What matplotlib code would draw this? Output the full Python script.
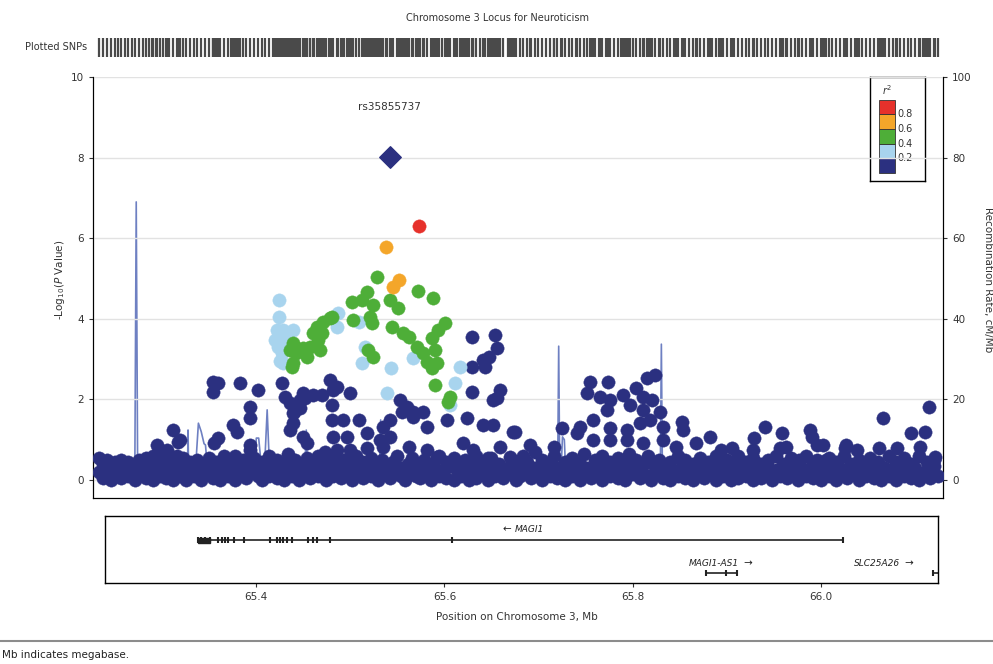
import numpy as np
import matplotlib
matplotlib.use("Agg")
import matplotlib.pyplot as plt
from matplotlib.patches import Rectangle

plt.rcParams['font.family'] = ['DejaVu Sans']

# colores por r2
navy = '#2B3080'
lblue = '#A8D4EE'
green = '#4EAE38'
orange = '#F4A62A'
red = '#E6312B'
recomb_col = '#6E80C2'

# SNP principal
top_snp = 'rs35855737'
top_pos = 65.542
top_logp = 8.01

# r2 >= 0.8
red_snps = [(65.573, 6.30)]

# 0.6 - 0.8
orange_snps = [(65.538, 5.78), (65.552, 4.96), (65.546, 4.79)]

# 0.4 - 0.6
green_snps = [
    (65.529, 5.04), (65.572, 4.69), (65.588, 4.52), (65.518, 4.67), (65.513, 4.47),
    (65.502, 4.42), (65.524, 4.34), (65.542, 4.47), (65.551, 4.27), (65.521, 4.04),
    (65.503, 3.97), (65.523, 3.90), (65.545, 3.80), (65.601, 3.90), (65.593, 3.72),
    (65.556, 3.65), (65.563, 3.55), (65.587, 3.52), (65.571, 3.30), (65.577, 3.15),
    (65.590, 3.23), (65.582, 2.93), (65.592, 2.90), (65.587, 2.78), (65.590, 2.36),
    (65.604, 1.94), (65.606, 2.06), (65.479, 4.02), (65.471, 3.92), (65.465, 3.80),
    (65.470, 3.65), (65.461, 3.65), (65.466, 3.47), (65.457, 3.30), (65.450, 3.28),
    (65.439, 3.40), (65.436, 3.23), (65.443, 3.15), (65.468, 3.23), (65.454, 3.05),
    (65.439, 2.90), (65.438, 2.80), (65.481, 4.04), (65.519, 3.23), (65.524, 3.05),
]

# 0.2 - 0.4
lblue_snps = [
    (65.425, 4.47), (65.425, 4.04), (65.422, 3.72), (65.429, 3.72), (65.439, 3.72),
    (65.420, 3.47), (65.428, 3.15), (65.429, 2.90), (65.487, 4.14), (65.486, 3.80),
    (65.510, 3.92), (65.516, 3.30), (65.513, 2.90), (65.544, 2.78), (65.539, 2.16),
    (65.567, 3.03), (65.617, 2.80), (65.611, 2.41), (65.606, 1.86), (65.424, 3.30),
    (65.432, 3.50), (65.426, 2.95),
]

# r2 < 0.2
navy_snps = [
    # valores intermedios
    (65.312, 1.24), (65.317, 0.94), (65.295, 0.87), (65.290, 0.55), (65.306, 0.74),
    (65.319, 0.99), (65.354, 2.43), (65.360, 2.40), (65.355, 2.18), (65.383, 2.40),
    (65.402, 2.23), (65.428, 2.40), (65.431, 2.06), (65.394, 1.81), (65.394, 1.54),
    (65.376, 1.36), (65.380, 1.19), (65.360, 1.04), (65.356, 0.92), (65.394, 0.87),
    (65.394, 0.74), (65.439, 1.66), (65.447, 1.98), (65.436, 1.24), (65.450, 1.07),
    (65.436, 1.91), (65.450, 2.16), (65.439, 1.41), (65.386, 0.50),
    (65.479, 2.48), (65.486, 2.31), (65.500, 2.16), (65.452, 2.03), (65.461, 2.11),
    (65.470, 2.11), (65.445, 1.86), (65.441, 1.69), (65.481, 1.86), (65.482, 2.23),
    (65.447, 1.79), (65.553, 1.99), (65.560, 1.81), (65.567, 1.69), (65.577, 1.69),
    (65.555, 1.69), (65.567, 1.56), (65.582, 1.32), (65.603, 1.49), (65.624, 1.54),
    (65.641, 1.36), (65.652, 1.36), (65.673, 1.19), (65.629, 3.55), (65.654, 3.60),
    (65.656, 3.28), (65.648, 3.05), (65.643, 2.80), (65.629, 2.80), (65.629, 2.18),
    (65.659, 2.23), (65.656, 2.03), (65.641, 2.98), (65.652, 1.98),
    (65.481, 1.49), (65.492, 1.49), (65.510, 1.49), (65.482, 1.07), (65.497, 1.07),
    (65.518, 1.17), (65.535, 1.32), (65.542, 1.49), (65.532, 0.99), (65.542, 1.07),
    (65.454, 0.92), (65.473, 0.69), (65.486, 0.74), (65.500, 0.74), (65.518, 0.79),
    (65.535, 0.82), (65.563, 0.82), (65.582, 0.74), (65.592, 0.57), (65.620, 0.92),
    (65.631, 0.74), (65.646, 0.55), (65.659, 0.82), (65.670, 0.57),
    (65.755, 2.43), (65.774, 2.43), (65.752, 2.16), (65.765, 2.06), (65.776, 1.98),
    (65.773, 1.74), (65.790, 2.11), (65.804, 2.28), (65.815, 2.53), (65.824, 2.60),
    (65.811, 2.06), (65.821, 1.98), (65.797, 1.86), (65.811, 1.74), (65.829, 1.69),
    (65.818, 1.49), (65.808, 1.41), (65.832, 1.32), (65.852, 1.44), (65.853, 1.24),
    (65.882, 1.07), (65.758, 1.49), (65.744, 1.32), (65.741, 1.17), (65.725, 1.29),
    (65.717, 0.82), (65.691, 0.87), (65.675, 1.19), (65.776, 1.29), (65.794, 1.24),
    (65.758, 0.99), (65.776, 0.99), (65.794, 0.99), (65.811, 0.92), (65.832, 0.99),
    (65.846, 0.82), (65.867, 0.92), (65.894, 0.74),
    (65.940, 1.32), (65.929, 1.04), (65.959, 1.17), (65.988, 1.24), (65.990, 1.07),
    (66.002, 0.87), (66.066, 1.54), (66.115, 1.81), (66.096, 1.17), (66.110, 1.19),
    (66.027, 0.87), (66.038, 0.74), (66.081, 0.79), (66.105, 0.82), (66.121, 0.57),
    (65.906, 0.79), (65.963, 0.82), (65.977, 0.50), (66.005, 0.50), (65.928, 0.74),
    (65.956, 0.79), (65.996, 0.87), (66.025, 0.80), (66.062, 0.79),
    # banda de abajo
    (65.234, 0.55), (65.234, 0.20), (65.238, 0.05), (65.238, 0.40), (65.242, 0.50),
    (65.242, 0.15), (65.246, 0.30), (65.246, 0.00), (65.250, 0.45), (65.250, 0.10),
    (65.254, 0.25), (65.257, 0.05), (65.257, 0.50), (65.261, 0.35), (65.264, 0.10),
    (65.264, 0.45), (65.268, 0.20), (65.272, 0.00), (65.272, 0.35), (65.276, 0.50),
    (65.276, 0.15), (65.280, 0.30), (65.283, 0.05), (65.283, 0.55), (65.287, 0.40),
    (65.287, 0.20), (65.291, 0.60), (65.291, 0.00), (65.294, 0.25), (65.298, 0.45),
    (65.298, 0.10), (65.301, 0.30), (65.301, 0.65), (65.305, 0.05), (65.305, 0.50),
    (65.308, 0.20), (65.312, 0.40), (65.312, 0.00), (65.316, 0.60), (65.316, 0.25),
    (65.319, 0.10), (65.323, 0.35), (65.323, 0.55), (65.326, 0.00), (65.330, 0.20),
    (65.330, 0.45), (65.334, 0.10), (65.334, 0.30), (65.338, 0.50), (65.342, 0.00),
    (65.342, 0.25), (65.346, 0.35), (65.350, 0.15), (65.350, 0.55), (65.354, 0.05),
    (65.354, 0.30), (65.358, 0.45), (65.362, 0.20), (65.362, 0.00), (65.366, 0.60),
    (65.366, 0.35), (65.370, 0.10), (65.374, 0.45), (65.374, 0.25), (65.378, 0.00),
    (65.378, 0.60), (65.382, 0.30), (65.386, 0.15), (65.390, 0.05), (65.394, 0.40),
    (65.394, 0.20), (65.398, 0.55), (65.402, 0.10), (65.402, 0.30), (65.406, 0.00),
    (65.406, 0.45), (65.410, 0.25), (65.414, 0.60), (65.414, 0.10), (65.418, 0.35),
    (65.422, 0.05), (65.422, 0.50), (65.426, 0.20), (65.430, 0.40), (65.430, 0.00),
    (65.434, 0.30), (65.434, 0.65), (65.438, 0.10), (65.442, 0.50), (65.442, 0.25),
    (65.446, 0.00), (65.450, 0.35), (65.450, 0.15), (65.454, 0.55), (65.458, 0.20),
    (65.458, 0.05), (65.462, 0.40), (65.466, 0.10), (65.466, 0.60), (65.470, 0.30),
    (65.474, 0.00), (65.474, 0.45), (65.478, 0.20), (65.482, 0.55), (65.482, 0.10),
    (65.486, 0.35), (65.490, 0.05), (65.490, 0.25), (65.494, 0.50), (65.498, 0.15),
    (65.498, 0.40), (65.502, 0.00), (65.506, 0.30), (65.506, 0.60), (65.510, 0.20),
    (65.514, 0.45), (65.514, 0.05), (65.518, 0.30), (65.522, 0.10), (65.522, 0.55),
    (65.526, 0.40), (65.530, 0.00), (65.530, 0.20), (65.534, 0.50), (65.538, 0.15),
    (65.538, 0.35), (65.542, 0.05), (65.546, 0.45), (65.546, 0.25), (65.550, 0.60),
    (65.554, 0.10), (65.554, 0.30), (65.558, 0.00), (65.562, 0.40), (65.562, 0.20),
    (65.566, 0.55), (65.570, 0.10), (65.570, 0.35), (65.574, 0.05), (65.578, 0.25),
    (65.578, 0.50), (65.582, 0.15), (65.586, 0.40), (65.586, 0.00), (65.590, 0.30),
    (65.594, 0.60), (65.594, 0.10), (65.598, 0.20), (65.602, 0.45), (65.602, 0.05),
    (65.606, 0.35), (65.610, 0.00), (65.610, 0.55), (65.614, 0.25), (65.618, 0.10),
    (65.618, 0.40), (65.622, 0.50), (65.626, 0.20), (65.626, 0.00), (65.630, 0.35),
    (65.634, 0.05), (65.634, 0.60), (65.638, 0.30), (65.642, 0.15), (65.642, 0.45),
    (65.646, 0.00), (65.650, 0.25), (65.650, 0.55), (65.654, 0.10), (65.658, 0.40),
    (65.658, 0.20), (65.662, 0.05), (65.668, 0.30), (65.672, 0.15), (65.672, 0.50),
    (65.676, 0.00), (65.680, 0.35), (65.680, 0.10), (65.684, 0.60), (65.688, 0.20),
    (65.688, 0.45), (65.692, 0.05), (65.696, 0.30), (65.696, 0.70), (65.700, 0.15),
    (65.704, 0.50), (65.704, 0.00), (65.708, 0.25), (65.712, 0.40), (65.712, 0.10),
    (65.716, 0.60), (65.720, 0.05), (65.720, 0.30), (65.724, 0.20), (65.728, 0.45),
    (65.728, 0.00), (65.732, 0.35), (65.736, 0.10), (65.736, 0.55), (65.740, 0.25),
    (65.744, 0.00), (65.744, 0.40), (65.748, 0.65), (65.752, 0.15), (65.752, 0.30),
    (65.756, 0.05), (65.760, 0.50), (65.760, 0.20), (65.764, 0.35), (65.768, 0.00),
    (65.768, 0.60), (65.772, 0.25), (65.776, 0.10), (65.776, 0.45), (65.780, 0.30),
    (65.784, 0.55), (65.784, 0.05), (65.788, 0.20), (65.792, 0.40), (65.792, 0.00),
    (65.796, 0.65), (65.800, 0.15), (65.800, 0.30), (65.804, 0.50), (65.808, 0.05),
    (65.808, 0.25), (65.812, 0.40), (65.816, 0.10), (65.816, 0.60), (65.820, 0.00),
    (65.824, 0.35), (65.824, 0.20), (65.828, 0.50), (65.832, 0.15), (65.832, 0.05),
    (65.836, 0.30), (65.840, 0.45), (65.840, 0.00), (65.844, 0.20), (65.848, 0.60),
    (65.848, 0.10), (65.852, 0.35), (65.856, 0.05), (65.856, 0.50), (65.860, 0.25),
    (65.864, 0.40), (65.864, 0.00), (65.868, 0.15), (65.872, 0.30), (65.872, 0.55),
    (65.876, 0.05), (65.880, 0.20), (65.880, 0.45), (65.884, 0.35), (65.888, 0.00),
    (65.888, 0.60), (65.892, 0.25), (65.896, 0.10), (65.896, 0.40), (65.900, 0.50),
    (65.904, 0.20), (65.904, 0.00), (65.908, 0.35), (65.912, 0.05), (65.912, 0.60),
    (65.916, 0.25), (65.920, 0.45), (65.920, 0.10), (65.924, 0.30), (65.928, 0.00),
    (65.928, 0.55), (65.932, 0.20), (65.936, 0.40), (65.936, 0.05), (65.940, 0.15),
    (65.944, 0.50), (65.944, 0.30), (65.948, 0.00), (65.952, 0.25), (65.952, 0.60),
    (65.956, 0.10), (65.960, 0.40), (65.960, 0.20), (65.964, 0.05), (65.968, 0.30),
    (65.968, 0.55), (65.972, 0.15), (65.976, 0.45), (65.976, 0.00), (65.980, 0.30),
    (65.984, 0.10), (65.984, 0.60), (65.988, 0.25), (65.992, 0.05), (65.992, 0.40),
    (65.996, 0.50), (66.000, 0.20), (66.000, 0.00), (66.004, 0.35), (66.008, 0.10),
    (66.008, 0.55), (66.012, 0.25), (66.016, 0.00), (66.016, 0.45), (66.020, 0.30),
    (66.024, 0.15), (66.024, 0.60), (66.028, 0.05), (66.032, 0.40), (66.032, 0.20),
    (66.036, 0.30), (66.040, 0.00), (66.040, 0.50), (66.044, 0.20), (66.048, 0.35),
    (66.048, 0.10), (66.052, 0.55), (66.056, 0.05), (66.056, 0.30), (66.060, 0.45),
    (66.064, 0.15), (66.064, 0.00), (66.068, 0.30), (66.072, 0.60), (66.072, 0.10),
    (66.076, 0.25), (66.080, 0.00), (66.080, 0.45), (66.084, 0.35), (66.088, 0.10),
    (66.088, 0.55), (66.092, 0.20), (66.096, 0.40), (66.096, 0.05), (66.100, 0.30),
    (66.104, 0.00), (66.104, 0.60), (66.108, 0.15), (66.112, 0.45), (66.112, 0.25),
    (66.116, 0.05), (66.120, 0.35), (66.120, 0.50), (66.124, 0.10),
]

# tasa de recombinacion (cM/Mb)
recomb_pos = [65.227, 65.240, 65.255, 65.268, 65.2715, 65.273, 65.2745, 65.278, 65.290,
              65.300, 65.312, 65.324, 65.3275, 65.328, 65.3285, 65.332, 65.336, 65.339,
              65.342, 65.345, 65.3465, 65.349, 65.352, 65.365, 65.385, 65.398, 65.4005,
              65.403, 65.406, 65.409, 65.412, 65.4145, 65.417, 65.430, 65.450, 65.4525,
              65.4535, 65.455, 65.470, 65.500, 65.530, 65.5315, 65.5325, 65.534, 65.560,
              65.580, 65.600, 65.640, 65.680, 65.700, 65.7205, 65.7215, 65.7225, 65.724,
              65.7255, 65.7275, 65.729, 65.735, 65.760, 65.800, 65.8295, 65.8305, 65.8315,
              65.833, 65.850, 65.900, 65.950, 66.000, 66.050, 66.100, 66.130]
recomb_rate = [1.0, 1.5, 1.0, 1.2, 2.0, 69.0, 2.0, 1.0, 1.5,
               2.0, 1.0, 1.5, 4.0, 12.4, 4.0, 1.5, 3.0, 14.1,
               12.0, 9.0, 8.7, 2.0, 0.8, 0.6, 0.7, 1.0, 10.4,
               10.4, 3.0, 2.0, 17.4, 3.0, 1.0, 0.8, 0.8, 6.0,
               12.4, 1.0, 0.8, 0.5, 0.8, 5.0, 14.9, 1.0, 0.8,
               0.6, 0.5, 0.6, 0.5, 0.8, 5.0, 33.2, 5.0, 2.0,
               10.7, 10.0, 1.5, 1.0, 0.8, 0.8, 5.0, 33.7, 5.0,
               1.0, 0.8, 0.6, 0.5, 0.6, 0.5, 0.6, 0.5]

# genes
magi1_start, magi1_end = 65.338, 66.023
magi1_exons = [65.338, 65.342, 65.346, 65.351, 65.360, 65.364, 65.367, 65.370, 65.377,
               65.387, 65.415, 65.422, 65.425, 65.429, 65.433, 65.438, 65.455, 65.461,
               65.465, 65.479, 65.608, 66.023]
as1_start, as1_end = 65.878, 65.911
as1_exons = [65.878, 65.899, 65.911]
slc_start, slc_end = 66.119, 66.160

xticks = [65.4, 65.6, 65.8, 66.0]
legend_cuts = ['0.2', '0.4', '0.6', '0.8']

xmin, xmax = 65.2271, 66.1295
txt = '#333333'
fs = 7.5

fig = plt.figure(figsize=(9.93, 6.64), dpi=100)

# ---- panel principal ----
ax = fig.add_axes([93 / 993, 1 - 498 / 664, 850 / 993, 421 / 664])
ax.set_xlim(xmin, xmax)
ax.set_ylim(-0.447, 10)
ax.spines['top'].set_visible(False)
ax.set_yticks([0, 2, 4, 6, 8, 10])
ax.tick_params(axis='y', labelsize=fs, colors=txt, length=3, width=0.8)
ax.tick_params(axis='x', bottom=False, labelbottom=False)
ax.grid(axis='y', color='#E2E2E2', linewidth=1.0)
ax.set_axisbelow(True)

ax2 = ax.twinx()
ax2.set_ylim(-4.47, 100)
ax2.set_yticks([0, 20, 40, 60, 80, 100])
ax2.tick_params(axis='y', labelsize=fs, colors=txt, length=3, width=0.8)
ax2.spines['top'].set_visible(False)
ax2.plot(recomb_pos, recomb_rate, color=recomb_col, lw=1.2, zorder=1)
ax2.set_zorder(0)
ax.set_zorder(1)
ax.patch.set_visible(False)

def scat(pts, col):
    a = np.array(pts)
    ax.scatter(a[:, 0], a[:, 1], s=92, color=col, edgecolors=col, linewidths=0.3, zorder=3)

scat(navy_snps, navy)
scat(lblue_snps, lblue)
scat(green_snps, green)
scat(orange_snps, orange)
scat(red_snps, red)
ax.scatter([top_pos], [top_logp], marker='D', s=120, color=navy, zorder=4)
ax.text(top_pos, 9.26, top_snp, ha='center', va='center', fontsize=fs, color=txt)

fig.text(60 / 993, 1 - 280 / 664, r'-Log$_{10}$($\it{P}$ Value)', rotation=90,
         ha='center', va='center', fontsize=fs, color=txt)
fig.text(0.995, 1 - 280 / 664, 'Recombination Rate, cM/Mb', rotation=270,
         ha='center', va='center', fontsize=fs, color=txt)

# ---- leyenda r2 ----
lg = fig.add_axes([870 / 993, 1 - 181 / 664, 55 / 993, 104 / 664])
lg.set_xlim(0, 55)
lg.set_ylim(0, 104)
lg.set_xticks([])
lg.set_yticks([])
for sp in lg.spines.values():
    sp.set_linewidth(1.0)
legend_cols = [navy, lblue, green, orange, red]
for i, c in enumerate(legend_cols):
    lg.add_patch(Rectangle((9, 8 + i * 14.7), 16, 14.7, facecolor=c, edgecolor='#333333', lw=0.6))
for i, lab in enumerate(legend_cuts):
    lg.text(27, 8 + (i + 1) * 14.7, lab, ha='left', va='center', fontsize=7, color=txt)
lg.text(17, 91, r'$\it{r}^2$', ha='center', va='center', fontsize=7, color=txt)

# ---- pista de SNPs ----
tr = fig.add_axes([93 / 993, 1 - 57 / 664, 850 / 993, 19 / 664])
tr.set_xlim(xmin, xmax)
tr.set_ylim(0, 1)
tr.axis('off')
all_pos = sorted(set([p[0] for p in navy_snps + lblue_snps + green_snps + orange_snps + red_snps] + [top_pos]))
tr.vlines(all_pos, 0, 1, color='#4A4A4A', lw=1.6)
fig.text(87 / 993, 1 - 47 / 664, 'Plotted SNPs', ha='right', va='center', fontsize=7, color=txt)

fig.text(497 / 993, 1 - 18 / 664, 'Chromosome 3 Locus for Neuroticism', ha='center', va='center',
         fontsize=7, color=txt)

# ---- panel de genes ----
gx0 = 65.4 - (256 - 105) / 942
gx1 = 65.4 + (938 - 256) / 942
ga = fig.add_axes([105 / 993, 1 - 583 / 664, 833 / 993, 67 / 664])
ga.set_xlim(gx0, gx1)
ga.set_ylim(67, 0)
ga.set_yticks([])
ga.set_xticks(xticks)
ga.set_xticklabels(['%.1f' % t for t in xticks])
ga.tick_params(axis='x', labelsize=fs, colors=txt, length=3, width=0.8)
for sp in ga.spines.values():
    sp.set_linewidth(1.0)

gc = '#222222'
ga.plot([magi1_start, magi1_end], [24, 24], color=gc, lw=1.2, solid_capstyle='butt')
ga.vlines(magi1_exons, 21, 27, color=gc, lw=1.5)
ga.add_patch(Rectangle((magi1_exons[0], 21.5), magi1_exons[3] - magi1_exons[0], 5, color=gc))
ga.text(65.675, 13, u'\u2190 ', ha='right', va='center', fontsize=7.5, color=gc)
ga.text(65.675, 13, 'MAGI1', ha='left', va='center', fontsize=6.5, style='italic', color=gc)

ga.plot([as1_start, as1_end], [57, 57], color=gc, lw=1.2)
ga.vlines(as1_exons, 54, 60, color=gc, lw=1.5)
ga.text(65.913, 47, 'MAGI1-AS1', ha='right', va='center', fontsize=6.5, style='italic', color=gc)
ga.text(65.917, 47, u'\u2192', ha='left', va='center', fontsize=7.5, color=gc)

ga.plot([slc_start, slc_end], [57, 57], color=gc, lw=1.2, clip_on=True)
ga.vlines([slc_start], 54, 60, color=gc, lw=1.5)
ga.text(66.084, 47, 'SLC25A26', ha='right', va='center', fontsize=6.5, style='italic', color=gc)
ga.text(66.088, 47, u'\u2192', ha='left', va='center', fontsize=7.5, color=gc)

fig.text(517 / 993, 1 - 617 / 664, 'Position on Chromosome 3, Mb', ha='center', va='center',
         fontsize=fs, color=txt)

# ---- pie ----
fig.add_artist(plt.Line2D([0, 1], [1 - 641 / 664, 1 - 641 / 664], color='#8C8C8C', lw=1.5))
fig.text(0.002, 1 - 655 / 664, 'Mb indicates megabase.', ha='left', va='center', fontsize=7.5, color='#222222')

fig.savefig('out.png', dpi=100)
